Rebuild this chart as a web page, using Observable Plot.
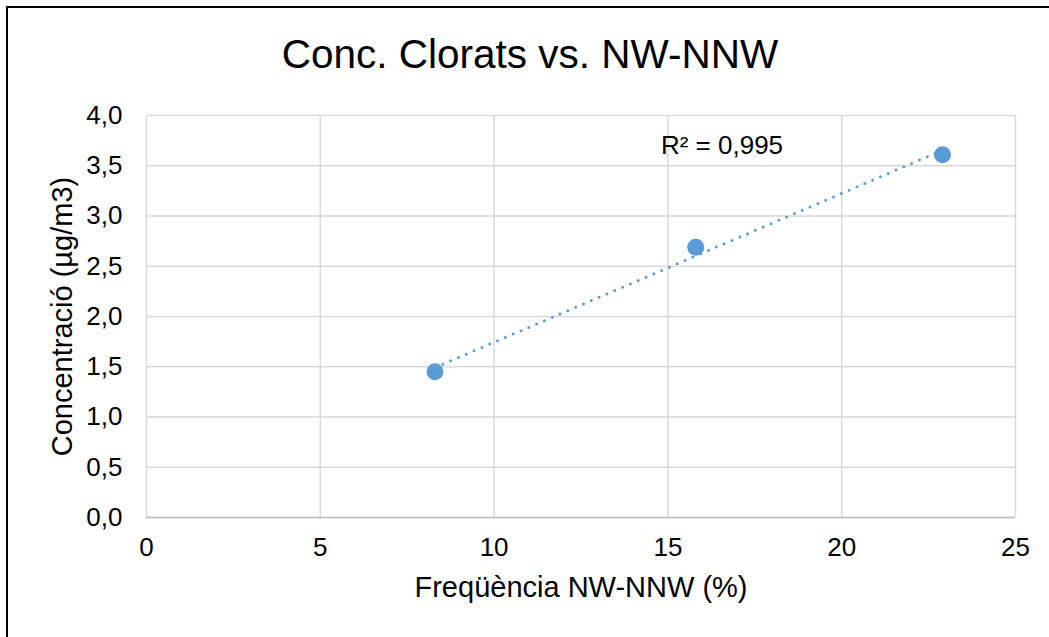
<!DOCTYPE html>
<html>
<head>
<meta charset="utf-8">
<script src="https://cdn.jsdelivr.net/npm/d3@7"></script>
<script src="https://cdn.jsdelivr.net/npm/@observablehq/plot@0.6"></script>
<style>
  html, body { margin: 0; padding: 0; background: #fff; }
  #wrap { position: relative; width: 1049px; height: 637px; overflow: hidden; }
  #border { position: absolute; left: 6px; top: 6px; width: 2000px; height: 2000px;
            border-left: 2px solid #000; border-top: 2px solid #000; pointer-events: none; }
  svg { font-family: "Liberation Sans", Arial, sans-serif; }
</style>
</head>
<body>
<div id="wrap"><div id="border"></div></div>
<script>
const title = "Conc. Clorats vs. NW-NNW";
const xLabel = "Freqüència NW-NNW (%)";
const yLabel = "Concentració (µg/m3)";
const freq = [8.3, 15.8, 22.9];
const conc = [1.45, 2.69, 3.61];
const r2Label = "R² = 0,995";
const xTicks = [0, 5, 10, 15, 20, 25];
const yTicks = [0, 0.5, 1, 1.5, 2, 2.5, 3, 3.5, 4];

const data = freq.map((f, i) => ({ f, c: conc[i] }));
const comma = v => d3.format(".1f")(v).replace(".", ",");
const color = "#5B9BD5";

const chart = Plot.plot({
  width: 1049,
  height: 637,
  marginLeft: 146,
  marginRight: 34,
  marginTop: 115,
  marginBottom: 120,
  style: { fontFamily: "Liberation Sans, Arial, sans-serif", background: "transparent", fontSize: "26px" },
  x: { domain: [0, 25] },
  y: { domain: [0, 4] },
  marks: [
    Plot.gridX(xTicks, { stroke: "#d9d9d9", strokeOpacity: 1, strokeWidth: 1.5 }),
    Plot.gridY(yTicks, { stroke: "#d9d9d9", strokeOpacity: 1, strokeWidth: 1.5 }),
    Plot.ruleY([0], { stroke: "#bfbfbf", strokeWidth: 1.5 }),
    Plot.axisX(xTicks, { tickSize: 0, tickPadding: 20, fontSize: 26, label: null }),
    Plot.axisY(yTicks, { tickSize: 0, tickPadding: 24, fontSize: 26, tickFormat: comma, label: null }),
    Plot.text([xLabel], { frameAnchor: "bottom", dy: 79, text: d => d, fontSize: 29, fill: "#000" }),
    Plot.text([yLabel], { frameAnchor: "left", dx: -84, rotate: -90, textAnchor: "middle",
      text: d => d, fontSize: 29, fill: "#000" }),
    Plot.linearRegressionY(data, { x: "f", y: "c", ci: 0, stroke: color, strokeWidth: 3,
      strokeDasharray: "0 8.5", strokeLinecap: "round" }),
    Plot.dot(data, { x: "f", y: "c", r: 8.5, fill: color, stroke: "none" }),
    Plot.text([r2Label], { x: 14.8, y: 3.70, text: d => d, textAnchor: "start", fontSize: 26, fill: "#000" }),
    Plot.text([title], { frameAnchor: "top", dy: -76, dx: -51, text: d => d, fontSize: 40.5, fill: "#000" })
  ]
});
document.getElementById("wrap").prepend(chart);
</script>
</body>
</html>
